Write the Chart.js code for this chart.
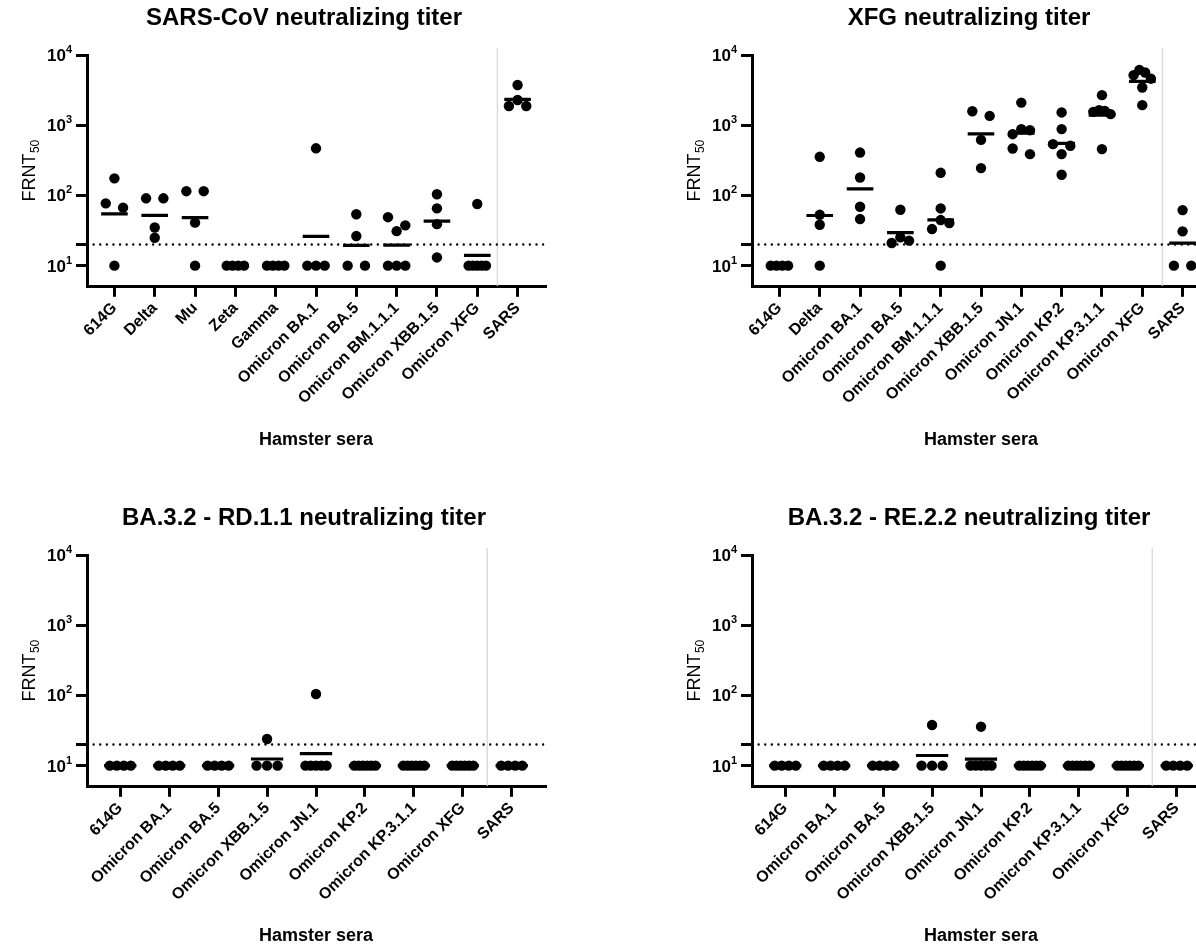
<!DOCTYPE html>
<html>
<head>
<meta charset="utf-8">
<script src="https://cdn.jsdelivr.net/npm/chart.js@4.4.1/dist/chart.umd.min.js"></script>
<style>
  html, body { margin:0; padding:0; background:#fff; overflow:hidden; width:1196px; height:947px; }
  canvas { position:absolute; }
</style>
</head>
<body>
<canvas id="c1" width="598" height="470" style="left:0;top:0;width:598px;height:470px"></canvas>
<canvas id="c2" width="598" height="470" style="left:665px;top:0;width:598px;height:470px"></canvas>
<canvas id="c3" width="598" height="447" style="left:0;top:500px;width:598px;height:447px"></canvas>
<canvas id="c4" width="598" height="447" style="left:665px;top:500px;width:598px;height:447px"></canvas>
<script>
// ---------------- DATA ----------------
const titles = [
  "SARS-CoV neutralizing titer",
  "XFG neutralizing titer",
  "BA.3.2 - RD.1.1 neutralizing titer",
  "BA.3.2 - RE.2.2 neutralizing titer"
];
const xAxisTitle = "Hamster sera";
const yAxisTitleMain = "FRNT";
const yAxisTitleSub = "50";
const yTickValues = [10, 100, 1000, 10000];
const limitOfDetection = 20;

const categoriesSarsCov = ["614G", "Delta", "Mu", "Zeta", "Gamma", "Omicron BA.1", "Omicron BA.5",
  "Omicron BM.1.1.1", "Omicron XBB.1.5", "Omicron XFG", "SARS"];
const titersSarsCov = [
  [175, 77, 67, 10],
  [91, 91, 35, 25],
  [115, 115, 41, 10],
  [10, 10, 10, 10],
  [10, 10, 10, 10],
  [469, 10, 10, 10],
  [54, 26.4, 10, 10],
  [49, 37.5, 31, 10, 10, 10],
  [104, 65.5, 39, 13.1],
  [75.5, 10, 10, 10, 10, 10],
  [3735, 2284, 1876, 1876]
];

const categoriesXfg = ["614G", "Delta", "Omicron BA.1", "Omicron BA.5", "Omicron BM.1.1.1",
  "Omicron XBB.1.5", "Omicron JN.1", "Omicron KP.2", "Omicron KP.3.1.1", "Omicron XFG", "SARS"];
const titersXfg = [
  [10, 10, 10, 10],
  [355, 53, 38.3, 10],
  [408, 180, 69, 46.1],
  [62.5, 25.3, 22.7, 21],
  [210, 65.3, 44.6, 40.4, 33.2, 10],
  [1581, 1358, 618, 245],
  [2100, 877, 850, 745, 466, 387],
  [1521, 881, 538, 509, 388, 197],
  [2680, 1640, 1600, 1550, 1440, 457],
  [6138, 5636, 5160, 4600, 3450, 1932],
  [61.8, 30.8, 10, 10]
];

const categoriesBA32 = ["614G", "Omicron BA.1", "Omicron BA.5", "Omicron XBB.1.5", "Omicron JN.1",
  "Omicron KP.2", "Omicron KP.3.1.1", "Omicron XFG", "SARS"];
const titersRD11 = [
  [10, 10, 10, 10],
  [10, 10, 10, 10],
  [10, 10, 10, 10],
  [24, 10, 10, 10],
  [105, 10, 10, 10, 10, 10],
  [10, 10, 10, 10, 10, 10],
  [10, 10, 10, 10, 10, 10],
  [10, 10, 10, 10, 10, 10],
  [10, 10, 10, 10]
];
const titersRE22 = [
  [10, 10, 10, 10],
  [10, 10, 10, 10],
  [10, 10, 10, 10],
  [37.9, 10, 10, 10],
  [35.9, 10, 10, 10, 10, 10],
  [10, 10, 10, 10, 10, 10],
  [10, 10, 10, 10, 10, 10],
  [10, 10, 10, 10, 10, 10],
  [10, 10, 10, 10]
];

// ---------------- HELPERS ----------------
const FONT = "'Liberation Sans', Arial, Helvetica, sans-serif";
const EDGE = 0.68;        // category-units gap between axis end and first/last column
const SPREAD = 0.43;      // horizontal spread of overlapping points (category units)
const ROW_TH = 0.13;      // decades within which points collide
const MEAN_HALF = 0.33;   // half-width of the geometric-mean bar

function geoMean(arr) {
  return Math.pow(10, arr.reduce((s, v) => s + Math.log10(v), 0) / arr.length);
}

// scatter-dot arrangement: points whose values collide are spread side by side
function arrange(vals) {
  const idx = vals.map((v, i) => i).sort((a, b) => vals[b] - vals[a]);
  const rows = [];
  idx.forEach(i => {
    const lv = Math.log10(vals[i]);
    const r = rows[rows.length - 1];
    if (r && r.top - lv < ROW_TH) r.items.push(i);
    else rows.push({ top: lv, items: [i] });
  });
  const off = new Array(vals.length).fill(0);
  rows.forEach(r => {
    const k = r.items.length;
    if (k === 1) return;
    const slots = [];
    for (let j = 0; j < k; j++) slots.push(-SPREAD / 2 + j * SPREAD / (k - 1));
    const order = [];
    if (k % 2 === 1) {
      const c = (k - 1) / 2; order.push(c);
      for (let d = 1; d <= c; d++) { order.push(c + d); order.push(c - d); }
    } else {
      const m = k / 2;
      for (let d = 0; d < m; d++) { order.push(m - 1 - d); order.push(m + d); }
    }
    r.items.forEach((it, j) => { off[it] = slots[order[j]]; });
  });
  return off;
}

const decorPlugin = {
  id: 'decor',
  beforeDatasetsDraw(chart) {
    const o = chart.options.plugins.decor;
    const ctx = chart.ctx, xs = chart.scales.x, ca = chart.chartArea;
    const sx = xs.getPixelForValue(o.n - 1.5);
    ctx.save();
    ctx.strokeStyle = '#dcdcdc';
    ctx.lineWidth = 1.5;
    ctx.beginPath();
    ctx.moveTo(sx, ca.top - 7);
    ctx.lineTo(sx, ca.bottom - 1);
    ctx.stroke();
    ctx.restore();
  },
  afterDraw(chart) {
    const o = chart.options.plugins.decor;
    const ctx = chart.ctx, ys = chart.scales.y, ca = chart.chartArea;
    const cx = (ca.left + ca.right) / 2;
    ctx.save();
    ctx.fillStyle = '#000';
    // title
    ctx.font = `bold ${o.titleSize}px ${FONT}`;
    ctx.textAlign = 'center';
    ctx.textBaseline = 'middle';
    ctx.fillText(o.title, cx + o.titleDx, o.titleY);
    // y tick labels 10^n
    yTickValues.forEach(v => {
      const y = ys.getPixelForValue(v);
      const e = String(Math.round(Math.log10(v)));
      const xEnd = ca.left - 15;
      ctx.font = `bold 11px ${FONT}`;
      const we = ctx.measureText(e).width;
      ctx.textAlign = 'left';
      ctx.textBaseline = 'alphabetic';
      ctx.fillText(e, xEnd - we, y - 2);
      ctx.font = `bold 17px ${FONT}`;
      ctx.textAlign = 'right';
      ctx.fillText('10', xEnd - we, y + 6);
    });
    // y axis title with subscript
    ctx.save();
    ctx.translate(o.yTitleX, (ca.top + ca.bottom) / 2);
    ctx.rotate(-Math.PI / 2);
    ctx.font = `18px ${FONT}`;
    const w1 = ctx.measureText(yAxisTitleMain).width;
    ctx.font = `12px ${FONT}`;
    const w2 = ctx.measureText(yAxisTitleSub).width;
    const x0 = -(w1 + w2) / 2;
    ctx.textAlign = 'left';
    ctx.textBaseline = 'alphabetic';
    ctx.font = `18px ${FONT}`;
    ctx.fillText(yAxisTitleMain, x0, 6.5);
    ctx.font = `12px ${FONT}`;
    ctx.fillText(yAxisTitleSub, x0 + w1 + 0.5, 10.5);
    ctx.restore();
    // x axis title
    ctx.font = `bold 18px ${FONT}`;
    ctx.textAlign = 'center';
    ctx.textBaseline = 'middle';
    ctx.fillText(xAxisTitle, cx, ca.bottom + o.xTitleDy);
    ctx.restore();
  }
};

function makePanel(id, title, cats, titers, xHeight, xTitleDy) {
  const n = cats.length;
  const points = [];
  const means = [];
  titers.forEach((vals, i) => {
    const off = arrange(vals);
    vals.forEach((v, j) => points.push({ x: i + off[j], y: v }));
    const g = geoMean(vals);
    means.push({ x: i - MEAN_HALF, y: g }, { x: i + MEAN_HALF, y: g }, { x: i + 0.5, y: null });
  });
  const xMin = -EDGE, xMax = n - 1 + EDGE;
  new Chart(document.getElementById(id), {
    type: 'scatter',
    data: {
      datasets: [
        { type: 'scatter', data: points, pointRadius: 5.2, pointHoverRadius: 5.2,
          backgroundColor: '#000', borderWidth: 0, order: 0 },
        { type: 'line', data: means, borderColor: '#000', borderWidth: 3.2, pointRadius: 0,
          spanGaps: false, fill: false, order: 1, borderCapStyle: 'butt' },
        { type: 'line', data: [{ x: xMin, y: limitOfDetection }, { x: xMax, y: limitOfDetection }],
          borderColor: '#000', borderWidth: 2.4, borderDash: [0.01, 6.6], borderCapStyle: 'round',
          pointRadius: 0, fill: false, order: 2 }
      ]
    },
    options: {
      responsive: false,
      animation: false,
      devicePixelRatio: 1,
      layout: { padding: { left: 0, right: 53, top: 55, bottom: 0 } },
      plugins: {
        legend: { display: false },
        tooltip: { enabled: false },
        decor: { title, n, titleSize: 24, titleY: 18, titleDx: -12, yTitleX: 28, xTitleDy: xTitleDy }
      },
      scales: {
        x: {
          type: 'linear', position: 'bottom', min: xMin, max: xMax,
          afterBuildTicks: s => { s.ticks = cats.map((c, i) => ({ value: i })); },
          afterFit: s => { s.height = xHeight; s.paddingLeft = 0; s.paddingRight = 0; },
          ticks: {
            autoSkip: false, minRotation: 45, maxRotation: 45, padding: 2,
            color: '#000', font: { family: FONT, size: 16, weight: 'bold' },
            callback: v => cats[v]
          },
          grid: { display: true, drawOnChartArea: false, drawTicks: true, tickLength: 10,
                  lineWidth: 3, color: '#000' },
          border: { display: true, width: 3, color: '#000' }
        },
        y: {
          type: 'logarithmic', position: 'left', min: 5, max: 10000,
          afterBuildTicks: s => { s.ticks = [10, limitOfDetection, 100, 1000, 10000].map(v => ({ value: v })); },
          afterFit: s => { s.width = 87; s.paddingTop = 0; s.paddingBottom = 0; },
          ticks: { display: false },
          grid: { display: true, drawOnChartArea: false, drawTicks: true, tickLength: 11,
                  lineWidth: 3, color: '#000' },
          border: { display: true, width: 3, color: '#000' }
        }
      }
    },
    plugins: [decorPlugin]
  });
}

makePanel('c1', titles[0], categoriesSarsCov, titersSarsCov, 183.2, 153);
makePanel('c2', titles[1], categoriesXfg, titersXfg, 183.2, 153);
makePanel('c3', titles[2], categoriesBA32, titersRD11, 160.2, 149);
makePanel('c4', titles[3], categoriesBA32, titersRE22, 160.2, 149);
</script>
</body>
</html>
